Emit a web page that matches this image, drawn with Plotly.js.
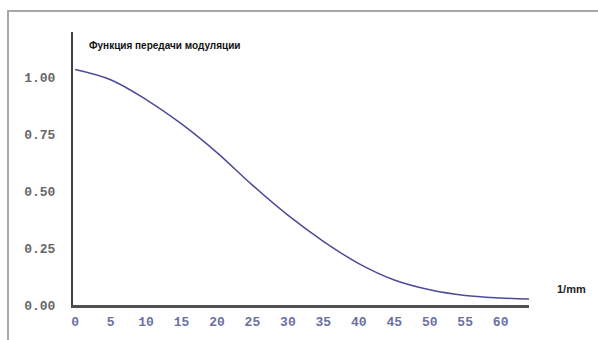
<!DOCTYPE html>
<html>
<head>
<meta charset="utf-8">
<script src="https://cdn.plot.ly/plotly-3.0.1.min.js"></script>
<style>
html,body{margin:0;padding:0;background:#fff;}
#wrap{position:relative;width:598px;height:340px;overflow:hidden;}
#frame{position:absolute;left:7px;top:10px;width:620px;height:360px;border-top:2px solid #a8a8a8;border-left:2px solid #a8a8a8;pointer-events:none;}
#chart{position:absolute;left:0;top:0;width:598px;height:340px;}
</style>
</head>
<body>
<div id="wrap">
<div id="chart"></div>
<div id="frame"></div>
</div>
<script>
const freq = [0, 5, 10, 15, 20, 25, 30, 35, 40, 45, 50, 55, 60, 64];
const mtf = [1.035, 0.99, 0.903, 0.796, 0.67, 0.527, 0.395, 0.28, 0.182, 0.11, 0.067, 0.042, 0.031, 0.026];
const xTicks = [0, 5, 10, 15, 20, 25, 30, 35, 40, 45, 50, 55, 60];
const yTicks = [0, 0.25, 0.5, 0.75, 1.0];
const yTickText = ["0.00", "0.25", "0.50", "0.75", "1.00"];
const chartTitle = "Функция передачи модуляции";
const xUnit = "1/mm";

const trace = {
  x: freq, y: mtf, type: "scatter", mode: "lines",
  line: {color: "#4b4b98", width: 1.5, shape: "spline", smoothing: 1},
  hoverinfo: "skip"
};

const layout = {
  width: 598, height: 340,
  margin: {l: 73, r: 69, t: 32, b: 35, pad: 0},
  paper_bgcolor: "#fff", plot_bgcolor: "#fff",
  showlegend: false,
  xaxis: {
    range: [-0.3, 64], tickvals: xTicks, ticktext: xTicks.map(String),
    showgrid: false, zeroline: false,
    showline: true, linecolor: "#505050", linewidth: 3,
    ticks: "outside", ticklen: 2, tickcolor: "rgba(0,0,0,0)",
    tickfont: {family: "Liberation Mono, Courier New, monospace", size: 13, color: "#6a70a2", weight: "bold"},
    fixedrange: true
  },
  yaxis: {
    range: [0, 1.2], tickvals: yTicks, ticktext: yTickText,
    showgrid: false, zeroline: false,
    showline: true, linecolor: "#404040", linewidth: 2,
    ticks: "outside", ticklen: 13, tickcolor: "rgba(0,0,0,0)",
    tickfont: {family: "Liberation Mono, Courier New, monospace", size: 13, color: "#666", weight: "bold"},
    fixedrange: true
  },
  annotations: [
    {text: chartTitle, xref: "paper", yref: "paper", x: 0.03, y: 0.95, xanchor: "left", yanchor: "middle",
     showarrow: false, font: {family: "Liberation Sans, Arial, sans-serif", size: 10, color: "#111", weight: "bold"}},
    {text: xUnit, xref: "paper", yref: "paper", x: 1.056, y: 0.06, xanchor: "left", yanchor: "middle",
     showarrow: false, font: {family: "Liberation Sans, Arial, sans-serif", size: 11, color: "#222", weight: "bold"}}
  ]
};

Plotly.newPlot("chart", [trace], layout, {displayModeBar: false, staticPlot: true});
</script>
</body>
</html>
